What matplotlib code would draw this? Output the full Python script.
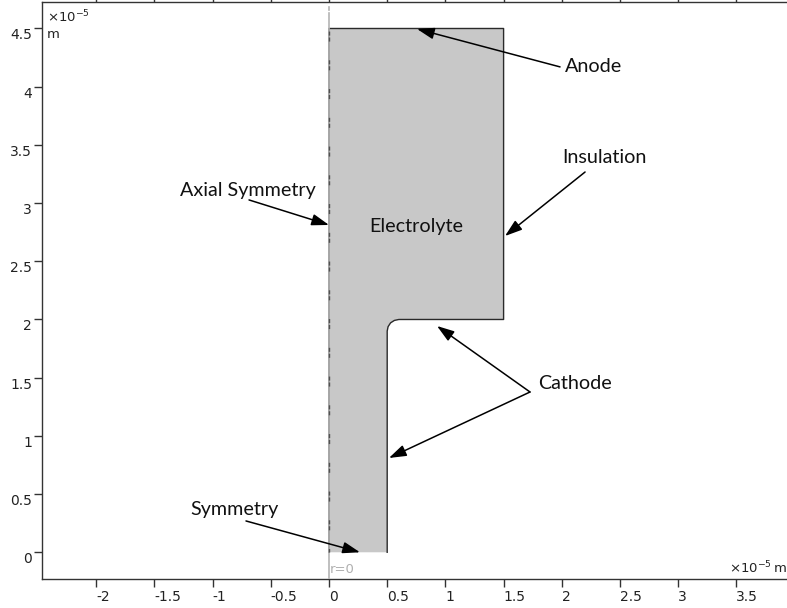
# -*- coding: utf-8 -*-

import matplotlib
matplotlib.use('Agg')
import matplotlib.pyplot as plt

W, H = 787, 608

# outline of the geometry, units of 1e-5 m
r_outline = [0, 0.5, 0.5, 0.5076, 0.529, 0.562, 0.6, 1.5, 1.5, 0]
z_outline = [0, 0, 1.9, 1.938, 1.971, 1.992, 2.0, 2.0, 4.5, 4.5]

xticks = [-2, -1.5, -1, -0.5, 0, 0.5, 1, 1.5, 2, 2.5, 3, 3.5]
yticks = [0, 0.5, 1, 1.5, 2, 2.5, 3, 3.5, 4, 4.5]

# label, text position
labels = ['Anode', 'Insulation', 'Axial Symmetry', 'Electrolyte', 'Cathode', 'Symmetry']
label_r = [2.03, 2.0, -1.28, 0.345, 1.795, -1.195]
label_z = [4.175, 3.395, 3.11, 2.795, 1.45, 0.365]

# arrows, tail -> tip
tail_r = [1.985, 2.2, -0.687, 1.727, 1.727, -0.713]
tail_z = [4.17, 3.267, 3.027, 1.377, 1.377, 0.269]
tip_r = [0.756, 1.512, 0, 0.928, 0.515, 0.266]
tip_z = [4.496, 2.717, 2.812, 1.944, 0.81, 0]

plt.rcParams['font.family'] = 'DejaVu Sans'

f = plt.figure(figsize=(W / 100, H / 100), dpi=100)
ax = f.add_axes([42.3 / W, 1 - 578.7 / H, (W - 42.3 + 2) / W, (578.7 - 2.3) / H])
ax.set_xlim(-2.463, 3.952)
ax.set_ylim(-0.227, 4.725)

dark = '#333333'
ax.fill(r_outline, z_outline, color='#c8c8c8', lw=0, zorder=1)
ax.plot(r_outline[1:] + r_outline[:1], z_outline[1:] + z_outline[:1], color='#2a2a2a', lw=1.0, zorder=2)

# r=0 axis, grey line with dark dashes on the boundary
ax.plot([0, 0], [-0.227, 4.63], color='#b4b4b4', lw=1.2, zorder=3)
ax.plot([0, 0], [4.66, 4.685], color='#b4b4b4', lw=1.2, zorder=3)
ax.plot([0, 0], [4.5, 0], color='#505050', lw=1.0, linestyle=(18.5, (2.9, 1.4, 2.9, 13.5)), zorder=4)
ax.text(0.01, -0.2, 'r=0', color='#b0b0b0', fontsize=9.5, va='bottom', ha='left')

for s in ax.spines.values():
    s.set_color(dark)
    s.set_linewidth(1.0)

ax.set_xticks(xticks)
ax.set_yticks(yticks)
ax.set_xticklabels(['%g' % v for v in xticks])
ax.set_yticklabels(['%g' % v for v in yticks])
ax.tick_params(axis='x', which='both', top=True, direction='out', length=5.8, width=1.0,
               color=dark, labelcolor='#222222', labelsize=10, pad=2)
ax.tick_params(axis='y', direction='out', length=5.8, width=1.0,
               color=dark, labelcolor='#222222', labelsize=10, pad=1.5)
for t in ax.get_xticklabels():
    t.set_ha('left')
for t in ax.get_yticklabels():
    t.set_va('top')

ax.text(47 / W, 1 - 17 / H, '×10$^{-5}$', transform=f.transFigure, fontsize=9.5, color='#222222', va='center')
ax.text(47 / W, 1 - 35 / H, 'm', transform=f.transFigure, fontsize=9.5, color='#222222', va='center')
ax.text(729 / W, 1 - 568 / H, '×10$^{-5}$', transform=f.transFigure, fontsize=9.5, color='#222222', va='center')
ax.text(773.5 / W, 1 - 569 / H, 'm', transform=f.transFigure, fontsize=9.5, color='#222222', va='center')

for s, r, z in zip(labels, label_r, label_z):
    ax.text(r, z, s, family='Lato', fontsize=14.2, color='#111111', va='center', ha='left', zorder=6)

for r0, z0, r1, z1 in zip(tail_r, tail_z, tip_r, tip_z):
    ax.annotate('', xy=(r1, z1), xytext=(r0, z0), zorder=5,
                arrowprops=dict(arrowstyle='-|>,head_length=0.75,head_width=0.25', color='k',
                                lw=1.1, shrinkA=0, shrinkB=0, mutation_scale=14))

f.savefig('out.png', dpi=100)
